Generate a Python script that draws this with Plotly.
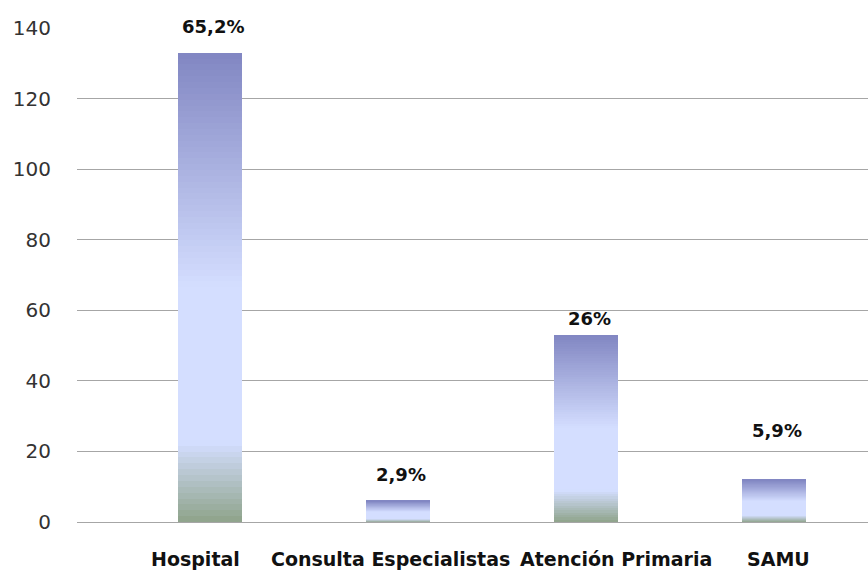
import plotly.graph_objects as go

categories = ["Hospital", "Consulta Especialistas", "Atención Primaria", "SAMU"]
values = [133, 6, 53, 12]
pct_labels = ["65,2%", "2,9%", "26%", "5,9%"]
y_ticks = [0, 20, 40, 60, 80, 100, 120, 140]

# gradient stops (fraction from bottom of each bar -> rgb)
stops = [(0.0, (142, 163, 138)), (0.17, (212, 222, 255)), (0.5, (212, 222, 255)), (1.0, (129, 134, 194))]
label_shift = [26, 26, 16, 49]
cat_label_xshift = [-15, -8, 30, 4]

def color_at(t):
    for (t0, c0), (t1, c1) in zip(stops[:-1], stops[1:]):
        if t0 <= t <= t1:
            f = (t - t0) / (t1 - t0) if t1 > t0 else 0
            return "rgb(%d,%d,%d)" % tuple(round(a + (b - a) * f) for a, b in zip(c0, c1))
    return "rgb(%d,%d,%d)" % stops[-1][1]

N = 80
xs = list(range(len(categories)))
fig = go.Figure()
for k in range(N):
    t = (k + 0.5) / N
    fig.add_trace(go.Bar(
        x=xs, y=[v / N for v in values], base=[v * k / N for v in values],
        width=0.34, marker=dict(color=color_at(t), line=dict(width=0)),
        showlegend=False, hoverinfo="skip"))

for i, (v, lab) in enumerate(zip(values, pct_labels)):
    fig.add_annotation(x=i, y=v, text="<b>%s</b>" % lab, showarrow=False,
                       yshift=label_shift[i], xshift=3,
                       font=dict(family="DejaVu Sans", size=18, color="#111111"))

for i, c in enumerate(categories):
    fig.add_annotation(x=i, y=0, yref="paper", yanchor="top", text="<b>%s</b>" % c,
                       showarrow=False, yshift=-24, xshift=cat_label_xshift[i],
                       font=dict(family="DejaVu Sans", size=19, color="#111111"))

fig.update_layout(
    width=868, height=572, barmode="overlay", bargap=0,
    margin=dict(l=77, r=0, t=28, b=50),
    plot_bgcolor="white", paper_bgcolor="white",
    xaxis=dict(range=[-0.708, 3.5], tickvals=xs, showticklabels=False,
               showgrid=False, zeroline=False, showline=False, ticks="",
               automargin=False),
    yaxis=dict(range=[0, 140], tickvals=y_ticks, showgrid=True,
               gridcolor="#a6a6a6", gridwidth=1, zeroline=True,
               zerolinecolor="#a6a6a6", zerolinewidth=1, showline=False,
               ticks="", ticklabelstandoff=25, automargin=False,
               tickfont=dict(family="DejaVu Sans", size=20, color="#333333")),
)
fig.write_html("out.html")
